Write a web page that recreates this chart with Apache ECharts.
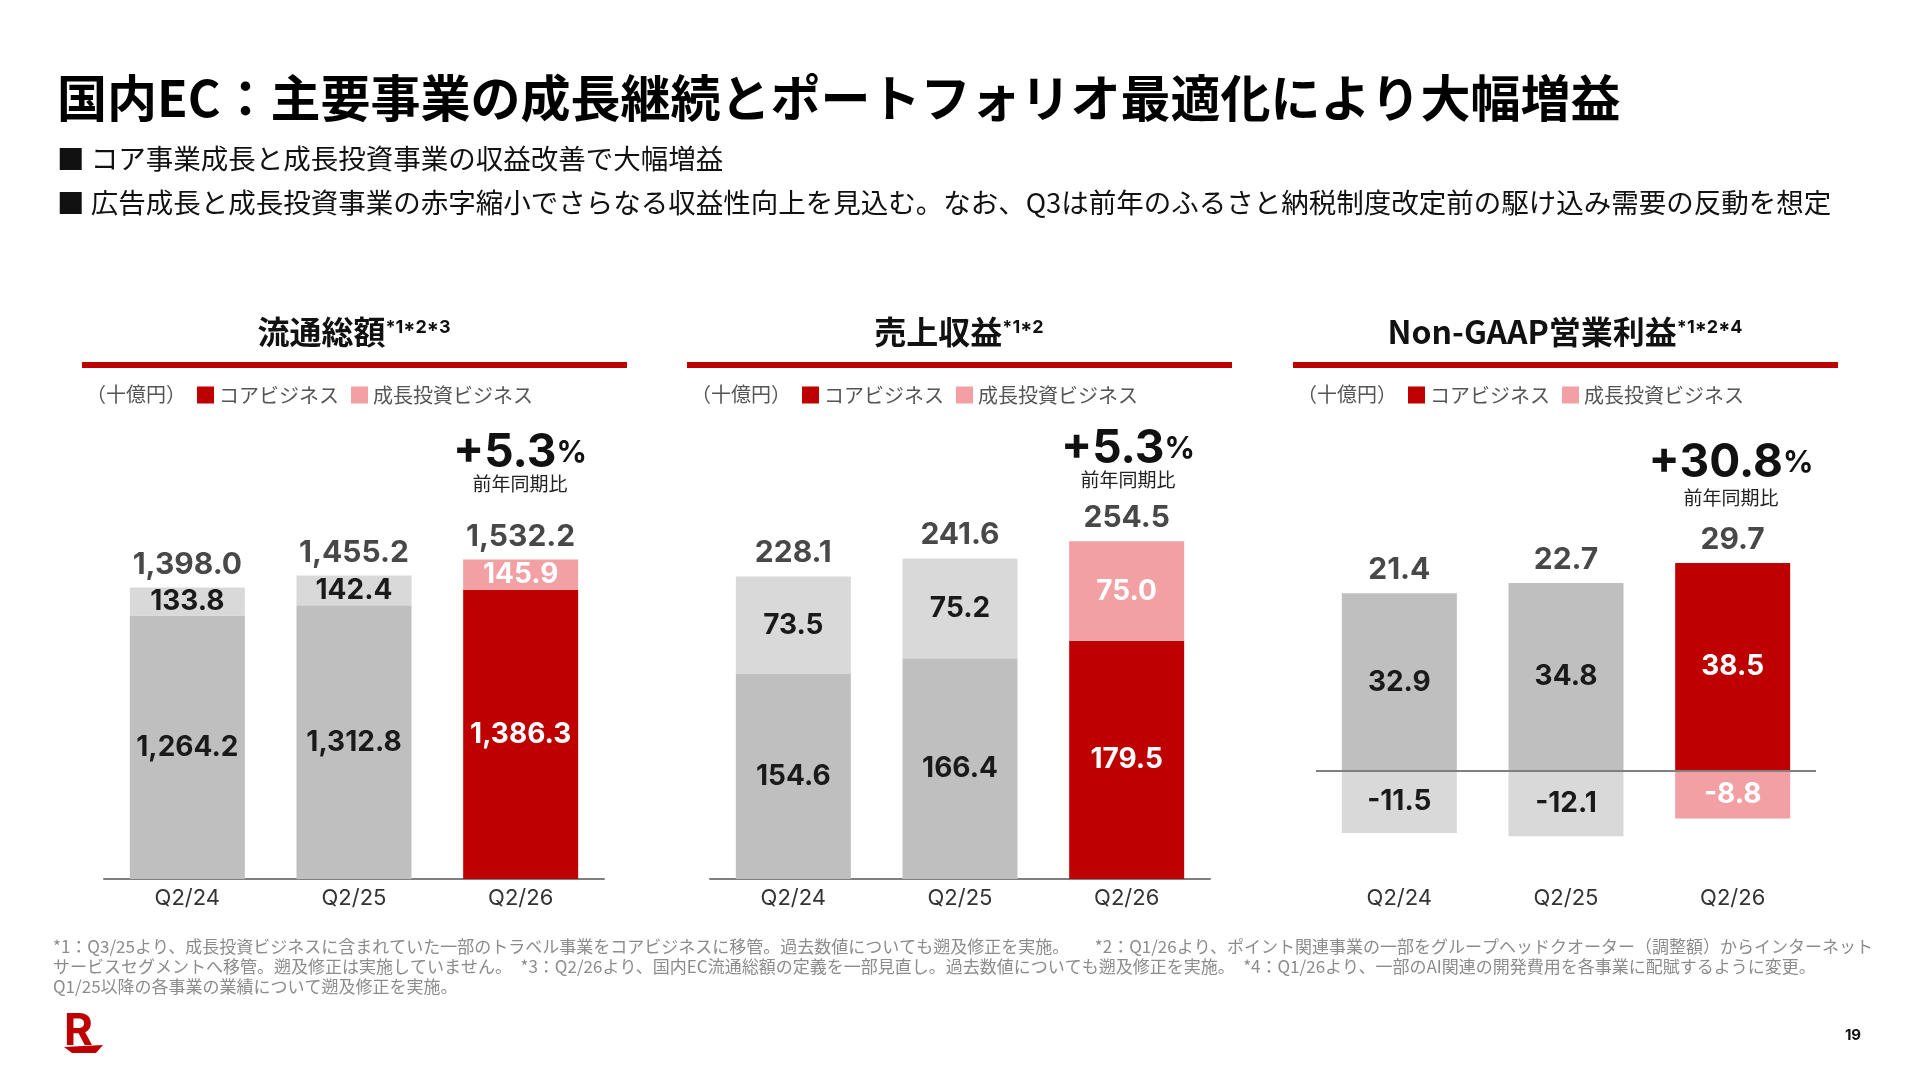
<!DOCTYPE html>
<html>
<head>
<meta charset="utf-8">
<script src="https://cdn.jsdelivr.net/npm/echarts@6/dist/echarts.min.js"></script>
<style>
  html, body { margin: 0; padding: 0; background: #fff; }
  #main { width: 1920px; height: 1080px; }
</style>
</head>
<body>
<div id="main"></div>
<script>
// データ
var categories = ['Q2/24', 'Q2/25', 'Q2/26'];
var gmvCore = [1264.2, 1312.8, 1386.3];
var gmvGrowth = [133.8, 142.4, 145.9];
var gmvTotal = [1398.0, 1455.2, 1532.2];
var revCore = [154.6, 166.4, 179.5];
var revGrowth = [73.5, 75.2, 75.0];
var revTotal = [228.1, 241.6, 254.5];
var opCore = [32.9, 34.8, 38.5];
var opGrowth = [-11.5, -12.1, -8.8];
var opTotal = [21.4, 22.7, 29.7];
var yoyValues = ['+5.3', '+5.3', '+30.8'];
var panelTitles = ['流通総額', '売上収益', 'Non-GAAP営業利益'];
var panelNotes = ['*1*2*3', '*1*2', '*1*2*4'];

var RED = '#bf0000', PINK = '#f2a0a3', GRAY = '#bfbfbf', LGRAY = '#d9d9d9';
var JP = '"Noto Sans CJK JP", sans-serif';
var NUM = 'Inter, "Noto Sans CJK JP", sans-serif';

var chart = echarts.init(document.getElementById('main'));

function fmt(v) {
    return v.toLocaleString('en-US', {minimumFractionDigits: 1, maximumFractionDigits: 1});
}

function items(vals, growth) {
    return vals.map(function (v, i) {
        var last = i === vals.length - 1;
        return {
            value: v,
            itemStyle: {color: last ? (growth ? PINK : RED) : (growth ? LGRAY : GRAY)},
            label: {color: last ? '#fff' : '#1a1a1a'}
        };
    });
}

var grids = [
    {left: 104, top: 462, width: 500, height: 417},
    {left: 710, top: 481, width: 500, height: 398},
    {left: 1316, top: 555, width: 500, height: 324}
];
var yRanges = [[0, 2000], [0, 300], [-20, 40]];
var panelLeft = [82, 687, 1293];
var coreSets = [gmvCore, revCore, opCore];
var growthSets = [gmvGrowth, revGrowth, opGrowth];
var totalSets = [gmvTotal, revTotal, opTotal];
// 合計ラベルを置く位置（棒の上端）
var topSets = [gmvTotal, revTotal, opCore];

var xAxes = [], yAxes = [], series = [], legends = [], graphic = [];

grids.forEach(function (g, k) {
    xAxes.push({
        type: 'category',
        gridIndex: k,
        data: categories,
        axisLine: {show: k !== 2, onZero: false, lineStyle: {color: '#7f7f7f', width: 2}},
        axisTick: {show: false},
        axisLabel: {fontSize: 22, color: '#333', fontFamily: NUM, margin: 8}
    });
    yAxes.push({
        type: 'value',
        gridIndex: k,
        min: yRanges[k][0],
        max: yRanges[k][1],
        show: false,
        splitLine: {show: false}
    });
    series.push({
        name: 'コアビジネス',
        type: 'bar',
        stack: 's' + k,
        xAxisIndex: k,
        yAxisIndex: k,
        barWidth: 115,
        itemStyle: {color: RED},
        label: {show: true, position: 'inside', fontSize: 28, fontWeight: 'bold', fontFamily: NUM,
            formatter: function (p) { return fmt(p.value); }},
        data: items(coreSets[k], false),
        markLine: k === 2 ? {
            silent: true,
            symbol: 'none',
            label: {show: false},
            lineStyle: {color: '#808080', width: 2, type: 'solid'},
            data: [{yAxis: 0}]
        } : undefined
    });
    series.push({
        name: '成長投資ビジネス',
        type: 'bar',
        stack: 's' + k,
        xAxisIndex: k,
        yAxisIndex: k,
        barWidth: 115,
        itemStyle: {color: PINK},
        label: {show: true, position: 'inside', fontSize: 28, fontWeight: 'bold', fontFamily: NUM,
            formatter: function (p) { return fmt(p.value); }},
        data: items(growthSets[k], true)
    });
    series.push({
        name: 'total' + k,
        type: 'scatter',
        xAxisIndex: k,
        yAxisIndex: k,
        symbolSize: 0,
        silent: true,
        label: {show: true, position: 'top', distance: 8, fontSize: 30, fontWeight: 'bold',
            color: '#1a1a1a', fontFamily: NUM,
            formatter: function (p) { return fmt(totalSets[k][p.dataIndex]); }},
        data: topSets[k]
    });
    legends.push({
        data: ['コアビジネス', '成長投資ビジネス'],
        left: panelLeft[k] + 110,
        top: 380,
        icon: 'rect',
        itemWidth: 17,
        itemHeight: 17,
        itemGap: 12,
        selectedMode: false,
        textStyle: {fontSize: 20, color: '#555', fontFamily: JP}
    });

    var cx = panelLeft[k] + 272;
    graphic.push({
        type: 'text', x: cx, y: 332,
        style: {
            text: '{t|' + panelTitles[k] + '}{s|' + panelNotes[k] + '}',
            align: 'center', verticalAlign: 'middle',
            rich: {
                t: {fontSize: 32, fontWeight: 'bold', fill: '#111', fontFamily: JP, lineHeight: 38},
                s: {fontSize: 18, fontWeight: 'bold', fill: '#111', fontFamily: NUM, verticalAlign: 'top', lineHeight: 38, padding: [6, 0, 0, 0]}
            }
        }
    });
    graphic.push({
        type: 'rect', shape: {x: panelLeft[k], y: 362, width: 545, height: 6},
        style: {fill: RED}
    });
    graphic.push({
        type: 'text', x: panelLeft[k] + 4, y: 394,
        style: {text: '（十億円）', fontSize: 20, fill: '#555', fontFamily: JP, verticalAlign: 'middle'}
    });
});

// 前年同期比
var yoyPos = [[520, 453, 484], [1128, 449, 480], [1731, 463, 498]];
yoyPos.forEach(function (p, k) {
    graphic.push({
        type: 'text', x: p[0], y: p[1],
        style: {
            text: '{b|' + yoyValues[k] + '}{p|%}',
            align: 'center', verticalAlign: 'middle',
            rich: {
                b: {fontSize: 46, fontWeight: 'bold', fill: '#111', fontFamily: NUM},
                p: {fontSize: 30, fontWeight: 'bold', fill: '#111', fontFamily: NUM}
            }
        }
    });
    graphic.push({
        type: 'text', x: p[0], y: p[2],
        style: {text: '前年同期比', fontSize: 19, fill: '#222', fontFamily: JP, align: 'center', verticalAlign: 'middle'}
    });
});

// 見出し・箇条書き・注記
graphic.push({
    type: 'text', x: 57, y: 98,
    style: {text: '国内EC：主要事業の成長継続とポートフォリオ最適化により大幅増益',
        fontSize: 50, fontWeight: 'bold', fill: '#000', fontFamily: JP, verticalAlign: 'middle'}
});
graphic.push({
    type: 'text', x: 57, y: 159,
    style: {text: '■ コア事業成長と成長投資事業の収益改善で大幅増益',
        fontSize: 27.5, fill: '#111', fontFamily: JP, verticalAlign: 'middle'}
});
graphic.push({
    type: 'text', x: 57, y: 203,
    style: {text: '■ 広告成長と成長投資事業の赤字縮小でさらなる収益性向上を見込む。なお、Q3は前年のふるさと納税制度改定前の駆け込み需要の反動を想定',
        fontSize: 27.5, fill: '#111', fontFamily: JP, verticalAlign: 'middle'}
});
graphic.push({
    type: 'text', x: 53, y: 937,
    style: {
        text: '*1：Q3/25より、成長投資ビジネスに含まれていた一部のトラベル事業をコアビジネスに移管。過去数値についても遡及修正を実施。　　*2：Q1/26より、ポイント関連事業の一部をグループヘッドクオーター（調整額）からインターネット\n' +
              'サービスセグメントへ移管。遡及修正は実施していません。　*3：Q2/26より、国内EC流通総額の定義を一部見直し。過去数値についても遡及修正を実施。　*4：Q1/26より、一部のAI関連の開発費用を各事業に配賦するように変更。\n' +
              'Q1/25以降の各事業の業績について遡及修正を実施。',
        fontSize: 17, lineHeight: 20, fill: '#8c8c8c', fontFamily: JP
    }
});
// ロゴとページ番号
graphic.push({
    type: 'text', x: 64, y: 1010,
    style: {text: 'R', fontSize: 44, fontWeight: 'bold', fill: RED, fontFamily: NUM}
});
graphic.push({
    type: 'polygon', shape: {points: [[64, 1047], [103, 1045], [96, 1053], [72, 1053]]},
    style: {fill: RED}
});
graphic.push({
    type: 'text', x: 1853, y: 1035,
    style: {text: '19', fontSize: 15, fontWeight: 'bold', fill: '#111', fontFamily: NUM, align: 'center', verticalAlign: 'middle'}
});

chart.setOption({
    animation: false,
    grid: grids,
    xAxis: xAxes,
    yAxis: yAxes,
    legend: legends,
    series: series,
    graphic: graphic
});
</script>
</body>
</html>
